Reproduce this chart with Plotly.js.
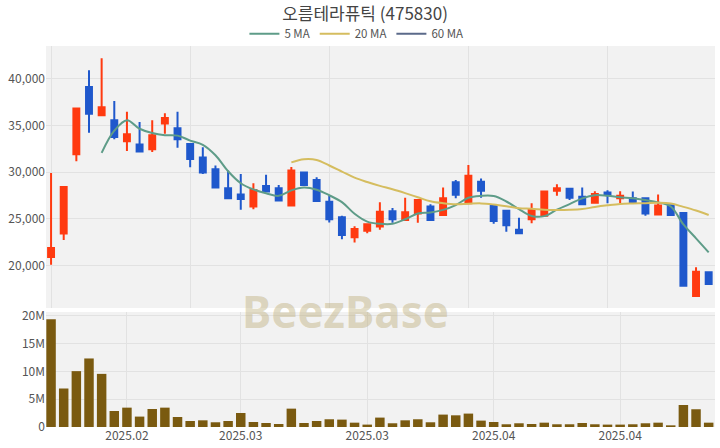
<!DOCTYPE html>
<html>
<head>
<meta charset="utf-8">
<script src="https://cdn.plot.ly/plotly-3.0.1.min.js"></script>
<style>html,body{margin:0;padding:0;background:#fff}#chart{width:720px;height:448px}</style>
</head>
<body>
<div id="chart"></div>
<script>
const dates = [
  "2025-02-14",
  "2025-02-17","2025-02-18","2025-02-19","2025-02-20","2025-02-21",
  "2025-02-24","2025-02-25","2025-02-26","2025-02-27","2025-02-28",
  "2025-03-04","2025-03-05","2025-03-06","2025-03-07",
  "2025-03-10","2025-03-11","2025-03-12","2025-03-13","2025-03-14",
  "2025-03-17","2025-03-18","2025-03-19","2025-03-20","2025-03-21",
  "2025-03-24","2025-03-25","2025-03-26","2025-03-27","2025-03-28",
  "2025-03-31","2025-04-01","2025-04-02","2025-04-03","2025-04-04",
  "2025-04-07","2025-04-08","2025-04-09","2025-04-10","2025-04-11",
  "2025-04-14","2025-04-15","2025-04-16","2025-04-17","2025-04-18",
  "2025-04-21","2025-04-22","2025-04-23","2025-04-24","2025-04-25",
  "2025-04-28","2025-04-29","2025-04-30"
];
const openP  = [20900,23400,31900,39100,36070,35550,33300,32950,32450,35200,34700,33000,31550,30300,28250,27600,26300,28500,28250,26400,29950,29150,26800,25150,23000,23700,24150,25800,24850,25550,26300,25400,28900,26650,28950,26350,25850,23800,24950,25300,28000,28200,27350,26700,27800,27200,27200,27200,25450,26450,25600,16700,19250];
const highP  = [29900,28400,36800,40900,42200,37600,36450,35350,35550,36300,36450,33000,32650,30700,30150,29800,28800,29700,28600,30550,29950,29450,27450,25300,24200,24400,26750,26150,27250,27100,26550,28350,29150,30750,29300,26350,25850,25100,26650,27900,28700,28300,28350,27950,28050,27950,27900,27200,27600,26450,25600,19800,19250];
const lowP   = [20050,22700,31150,34200,36070,33500,32250,32200,32150,34100,32600,30500,29800,28350,27180,25950,26000,27890,26920,26400,28600,26900,24600,22800,22450,23450,23800,24550,24850,24550,24850,25400,27200,26650,27250,24450,23600,23450,24500,25300,27450,27000,26550,26700,26650,26650,26750,25300,25450,25400,17800,16700,17950];
const closeP = [21850,28400,36800,36250,36930,33750,34050,32200,33950,35800,33500,31400,29950,28350,27200,27100,28070,27900,26950,30150,28600,26900,24950,23250,23900,24400,25750,24950,25700,27000,24850,27200,27550,29600,28000,24750,24300,23450,25950,27900,28250,27250,26550,27650,27550,27450,26750,25550,26400,25400,17800,19300,18000];
const volume = [19.35e6,6.92e6,10.04e6,12.32e6,9.55e6,2.88e6,3.48e6,1.87e6,3.24e6,3.48e6,1.80e6,1.08e6,1.20e6,0.85e6,1.08e6,2.52e6,0.90e6,0.72e6,0.54e6,3.30e6,0.72e6,1.08e6,1.39e6,1.33e6,0.78e6,0.43e6,1.69e6,0.67e6,1.20e6,1.39e6,0.85e6,2.23e6,2.10e6,2.41e6,1.15e6,0.90e6,0.49e6,0.67e6,0.54e6,0.78e6,0.49e6,0.49e6,0.72e6,0.49e6,0.43e6,0.43e6,0.49e6,0.67e6,0.78e6,0.30e6,3.96e6,3.19e6,0.78e6];
const priceTicks = [20000,25000,30000,35000,40000];
const volTicks = [0,5e6,10e6,15e6,20e6];
const volTickText = ["0","5M","10M","15M","20M"];
const xLabelIdx = [6,15,25,35,45];
const xLabelText = ["2025.02","2025.03","2025.03","2025.04","2025.04"];
const upperGridIdx = [0,11,22,33,44];
const maPeriods = [5,20,60];
const maNames = ["5 MA","20 MA","60 MA"];
const maColors = ["#5e9c88","#d5bd5f","#5b6a8a"];

function movingAvg(arr, n){
  const out = [];
  for(let i=0;i<arr.length;i++){
    if(i < n-1){ out.push(null); continue; }
    let s=0; for(let k=i-n+1;k<=i;k++) s+=arr[k];
    out.push(s/n);
  }
  return out;
}

const RED = "#ff3a10", BLUE = "#1f58cc";
const traces = [];
traces.push({
  type:"candlestick", x:dates, open:openP, high:highP, low:lowP, close:closeP,
  xaxis:"x", yaxis:"y", showlegend:false, hoverinfo:"skip",
  increasing:{line:{color:RED,width:2},fillcolor:RED},
  decreasing:{line:{color:BLUE,width:2},fillcolor:BLUE},
  whiskerwidth:0
});
maPeriods.forEach((p,j)=>{
  const ma = movingAvg(closeP,p);
  traces.push({
    type:"scatter", mode:"lines", x:dates, y:ma, name:maNames[j],
    line:{color:maColors[j],width:2,shape:"spline"}, xaxis:"x", yaxis:"y",
    connectgaps:false, hoverinfo:"skip"
  });
});
traces.push({
  type:"bar", x:dates, y:volume, marker:{color:"#7a5a10"}, width:0.75,
  xaxis:"x2", yaxis:"y2", showlegend:false, hoverinfo:"skip"
});

const font = "'Noto Sans CJK KR','Noto Sans',sans-serif";
const layout = {
  width:720, height:448,
  margin:{l:46,r:5,t:46,b:21},
  paper_bgcolor:"#ffffff", plot_bgcolor:"#f2f2f2",
  font:{family:font,color:"#555",size:12},
  title:{text:"오름테라퓨틱 (475830)", x:0.507, xanchor:"center", y:0.968, yanchor:"middle",
         font:{family:font,size:17,color:"#444"}},
  showlegend:true,
  legend:{orientation:"h", x:0.464, xanchor:"center", y:1.032, yanchor:"middle",
          font:{family:font,size:11.5,color:"#555"}, bgcolor:"rgba(0,0,0,0)", traceorder:"normal"},
  boxgap:0.33,
  bargap:0.25,
  xaxis:{type:"category", domain:[0,1], anchor:"y", range:[-0.4,52.5],
         rangeslider:{visible:false}, showticklabels:false,
         tickmode:"array", tickvals:upperGridIdx.map(i=>dates[i]),
         showgrid:true, gridcolor:"#e2e2e2", zeroline:false, showline:false, ticks:""},
  yaxis:{domain:[0.3123,1], anchor:"x", range:[15424,43505],
         tickmode:"array", tickvals:priceTicks, tickformat:",d",
         showgrid:true, gridcolor:"#e2e2e2", zeroline:false, ticks:"",
         tickfont:{size:12,color:"#555"}},
  xaxis2:{type:"category", domain:[0,1], anchor:"y2", range:[-0.4,52.5],
          tickmode:"array", tickvals:xLabelIdx.map(i=>dates[i]), ticktext:xLabelText,
          showgrid:true, gridcolor:"#e2e2e2", zeroline:false, ticks:"",
          tickfont:{size:12,color:"#555"}},
  yaxis2:{domain:[0,0.3018], anchor:"x2", range:[0,20.67e6],
          tickmode:"array", tickvals:volTicks, ticktext:volTickText,
          showgrid:true, gridcolor:"#e2e2e2", zeroline:false, ticks:"",
          tickfont:{size:12,color:"#555"}},
  annotations:[{
    text:"<b>BeezBase</b>", xref:"paper", yref:"paper", x:0.448, y:0.305,
    xanchor:"center", yanchor:"middle", showarrow:false,
    font:{family:"'Noto Sans',sans-serif", size:44, color:"rgba(190,175,125,0.45)"}
  }]
};
Plotly.newPlot("chart", traces, layout, {staticPlot:true, displayModeBar:false});
</script>
</body>
</html>
